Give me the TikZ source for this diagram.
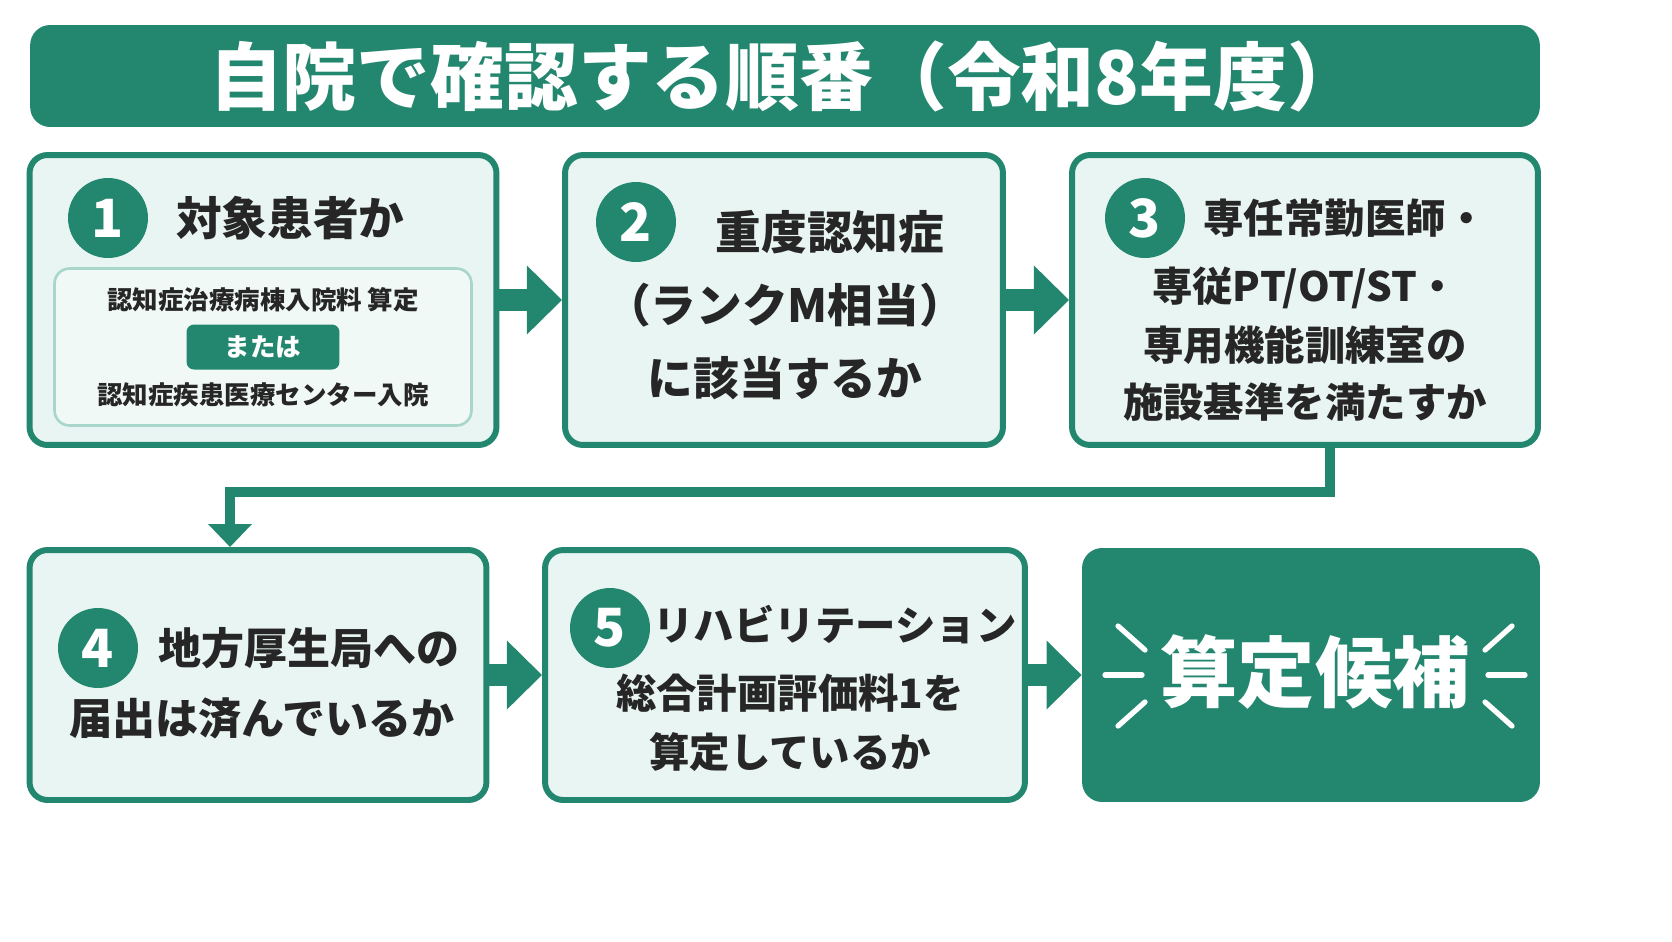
\documentclass[tikz,border=0pt]{standalone}
\usepackage{fontspec}
\setmainfont{Noto Sans CJK JP}
\usetikzlibrary{arrows.meta}
\definecolor{teal1}{HTML}{23876F}
\definecolor{pale}{HTML}{E9F5F2}
\definecolor{inner}{HTML}{F1F9F7}
\definecolor{rim}{HTML}{A9D6CA}
\begin{document}
\begin{tikzpicture}[x=0.02cm, y=-0.02cm,
    box/.style={rectangle, rounded corners=0.36cm, draw=teal1, line width=3.4pt, fill=pale},
    num/.style={circle, fill=teal1, text=white, minimum size=1.6cm, inner sep=0pt, font=\bfseries\fontsize{30}{30}\selectfont},
    big/.style={font=\bfseries\fontsize{26}{30}\selectfont, text=black!85},
    mid/.style={font=\bfseries\fontsize{23}{28}\selectfont, text=black!85},
    small/.style={font=\bfseries\fontsize{14.5}{17}\selectfont, text=black!85},
    flow/.style={teal1, line width=13pt, -{Triangle[width=38pt, length=20pt]}},
    link/.style={teal1, line width=5.5pt},
    spark/.style={white, line width=3pt, line cap=round}
]
\useasboundingbox (0,0) rectangle (1672,941);
% title
\node [rectangle, rounded corners=0.4cm, fill=teal1, minimum width=30.2cm, minimum height=2.04cm] (title) at (785,76) {};
\node [text=white, font=\bfseries\fontsize{42}{46}\selectfont] at (785,76) {自院で確認する順番（令和8年度）};
% boxes
\node [box, minimum width=9.34cm, minimum height=5.8cm] (b1) at (263,300) {};
\node [box, minimum width=8.76cm, minimum height=5.8cm] (b2) at (784,300) {};
\node [box, minimum width=9.32cm, minimum height=5.8cm] (b3) at (1305,300) {};
\node [box, minimum width=9.14cm, minimum height=5cm] (b4) at (258,675) {};
\node [box, minimum width=9.6cm, minimum height=5cm] (b5) at (785,675) {};
\node [rectangle, rounded corners=0.4cm, fill=teal1, minimum width=9.16cm, minimum height=5.08cm] (b6) at (1311,675) {};
% step 1
\node [num] (n1) at (108,218) {1};
\node [big, anchor=west] at (170,218) {対象患者か};
\node [rectangle, rounded corners=0.3cm, draw=rim, line width=1.5pt, fill=inner, minimum width=8.34cm, minimum height=3.14cm] (in1) at (263,347) {};
\node [small] at (263,300) {認知症治療病棟入院料 算定};
\node [rectangle, rounded corners=0.15cm, fill=teal1, text=white, font=\bfseries\fontsize{14.5}{17}\selectfont, minimum width=3.06cm, minimum height=0.9cm] (or) at (263,347) {または};
\node [small] at (263,395) {認知症疾患医療センター入院};
% step 2
\node [num] (n2) at (636,222) {2};
\node [big] at (830,232) {重度認知症};
\node [big] at (785,305) {（ランクM相当）};
\node [big] at (785,378) {に該当するか};
% step 3
\node [num] (n3) at (1145,218) {3};
\node [mid] at (1345,218) {専任常勤医師・};
\node [mid] at (1305,288) {専従PT/OT/ST・};
\node [mid] at (1305,345) {専用機能訓練室の};
\node [mid] at (1305,402) {施設基準を満たすか};
% step 4
\node [num] (n4) at (98,648) {4};
\node [font=\bfseries\fontsize{24.5}{28}\selectfont, text=black!85, anchor=west] at (152,648) {地方厚生局への};
\node [font=\bfseries\fontsize{24.5}{28}\selectfont, text=black!85] at (262,718) {届出は済んでいるか};
% step 5
\node [num] (n5) at (610,628) {5};
\node [mid] at (835,625) {リハビリテーション};
\node [mid] at (790,693) {総合計画評価料1を};
\node [mid] at (790,752) {算定しているか};
% result
\node [text=white, font=\bfseries\fontsize{44}{48}\selectfont] (res) at (1315,672) {算定候補};
\draw [spark] (1118,626) -- (1145,650);
\draw [spark] (1105,675) -- (1142,675);
\draw [spark] (1118,726) -- (1145,702);
\draw [spark] (1512,626) -- (1485,650);
\draw [spark] (1488,675) -- (1525,675);
\draw [spark] (1512,726) -- (1485,702);
% arrows
\draw [flow] (b1.east) -- (b2.west);
\draw [flow] (b2.east) -- (b3.west);
\draw [flow] (b4.east) -- (b5.west);
\draw [flow] (b5.east) -- (b6.west);
\coordinate (c1) at (1330,492);
\coordinate (c2) at (230,492);
\draw [link, -{Triangle[width=24pt, length=13pt]}] (b3.south -| c1) -- (c1) -- (c2) -- (b4.north -| c2);
\end{tikzpicture}
\end{document}
